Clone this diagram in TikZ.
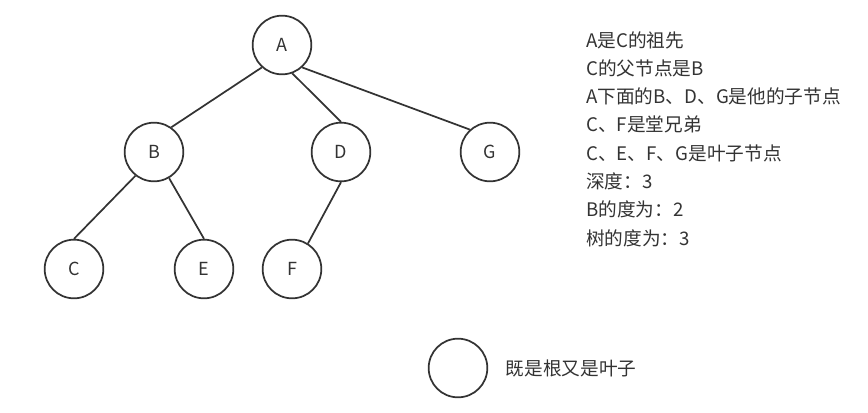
\documentclass[tikz,border=0pt]{standalone}
\usepackage{fontspec}
\setmainfont{Noto Sans CJK SC}
\usetikzlibrary{positioning}
\definecolor{ink}{gray}{0.2}

\begin{document}
\begin{tikzpicture}[x=0.75pt,y=-0.75pt,
  vert/.style={circle,draw=ink,line width=1.3pt,minimum size=44pt,inner sep=0pt,text=ink,font=\fontsize{13.5}{16}\selectfont},
  link/.style={draw=ink,line width=1.3pt},
  note/.style={anchor=west,inner sep=0pt,text=ink,font=\fontsize{14}{16}\selectfont}
]
\useasboundingbox (0,0) rectangle (868,412);
% the tree
\node[vert] (A) at (282,45) {A};
\node[vert] (B) at (154,152) {B};
\node[vert] (D) at (341,152) {D};
\node[vert] (G) at (490,152) {G};
\node[vert] (C) at (74,269) {C};
\node[vert] (E) at (204,269) {E};
\node[vert] (F) at (292,269) {F};
\draw[link] (A.-132) -- (B.55);
\draw[link] (A.-70) -- (D.north);
\draw[link] (A.-48) -- (G.132);
\draw[link] (B.-128) -- (C.north);
\draw[link] (B.-60) -- (E.north);
\draw[link] (D.south) -- (F.58);
% notes
\node[note] (t1) at (586,40) {A是C的祖先};
\node[note] (t2) at (586,68.3) {C的父节点是B};
\node[note] (t3) at (586,96.6) {A下面的B、D、G是他的子节点};
\node[note] (t4) at (586,124.9) {C、F是堂兄弟};
\node[note] (t5) at (586,153.2) {C、E、F、G是叶子节点};
\node[note] (t6) at (586,181.5) {深度：3};
\node[note] (t7) at (586,209.8) {B的度为：2};
\node[note] (t8) at (586,238.1) {树的度为：3};
% single node tree
\node[vert] (solo) at (458,368) {};
\node[note,right=13pt of solo] (solotxt) {既是根又是叶子};
\end{tikzpicture}
\end{document}
